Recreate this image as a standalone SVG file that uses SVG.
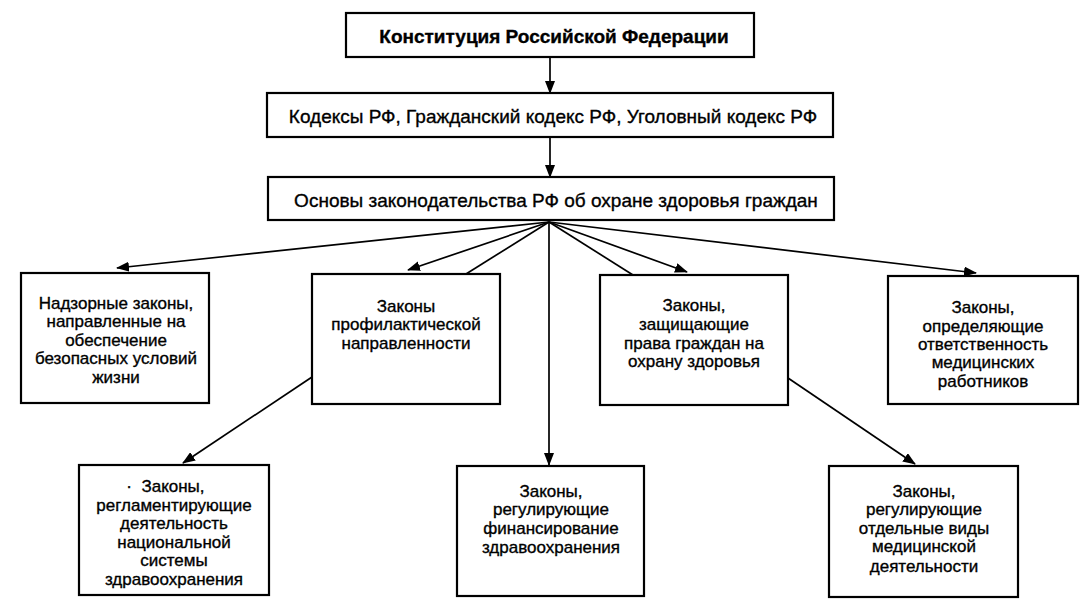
<svg xmlns="http://www.w3.org/2000/svg" width="1091" height="613" viewBox="0 0 1091 613">
<defs>
<marker id="arr" markerUnits="userSpaceOnUse" markerWidth="14" markerHeight="10" refX="12" refY="5" orient="auto">
<path d="M0,0 L13,5 L0,10 z" fill="#000"/>
</marker>
<style>
.box{fill:#fff;stroke:#000;stroke-width:2.2}
.t{font-family:"Liberation Sans",Arial,sans-serif;font-size:17px;fill:#000;stroke:#000;stroke-width:0.35;text-anchor:middle}
.big{font-size:19px}
.bold{font-weight:bold;font-size:19px}
.ln{fill:none;stroke:#000;stroke-width:1.7}
</style>
</defs>
<rect width="1091" height="613" fill="#fff"/>
<g id="connectors">
<line class="ln" x1="550" y1="57" x2="550" y2="93" marker-end="url(#arr)"/>
<line class="ln" x1="550" y1="137" x2="550" y2="177" marker-end="url(#arr)"/>
<line class="ln" x1="549" y1="222" x2="117" y2="268" marker-end="url(#arr)"/>
<line class="ln" x1="549" y1="222" x2="408" y2="270" marker-end="url(#arr)"/>
<line class="ln" x1="549" y1="222" x2="466" y2="274"/>
<line class="ln" x1="549" y1="222" x2="549" y2="465" marker-end="url(#arr)"/>
<line class="ln" x1="549" y1="222" x2="633" y2="275"/>
<line class="ln" x1="549" y1="222" x2="687" y2="272" marker-end="url(#arr)"/>
<line class="ln" x1="549" y1="222" x2="976" y2="273" marker-end="url(#arr)"/>
<line class="ln" x1="312" y1="377" x2="183" y2="463" marker-end="url(#arr)"/>
<line class="ln" x1="788" y1="378" x2="915" y2="464" marker-end="url(#arr)"/>
</g>
<g id="n1">
<rect class="box" x="346" y="13" width="408" height="44"/>
<text class="t bold" x="554" y="43">Конституция Российской Федерации</text>
</g>
<g id="n2">
<rect class="box" x="267" y="93" width="566" height="44"/>
<text class="t big" x="553" y="123">Кодексы РФ, Гражданский кодекс РФ, Уголовный кодекс РФ</text>
</g>
<g id="n3">
<rect class="box" x="268" y="177" width="566" height="43"/>
<text class="t big" x="556" y="207">Основы законодательства РФ об охране здоровья граждан</text>
</g>
<g id="nA">
<rect class="box" x="21" y="273" width="188" height="130"/>
<text class="t" x="116" y="309">Надзорные законы,</text>
<text class="t" x="116" y="327">направленные на</text>
<text class="t" x="116" y="346">обеспечение</text>
<text class="t" x="116" y="364">безопасных условий</text>
<text class="t" x="116" y="383">жизни</text>
</g>
<g id="nB">
<rect class="box" x="312" y="274" width="188" height="130"/>
<text class="t" x="406" y="312">Законы</text>
<text class="t" x="406" y="330">профилактической</text>
<text class="t" x="406" y="349">направленности</text>
</g>
<g id="nC">
<rect class="box" x="600" y="275" width="188" height="130"/>
<text class="t" x="694" y="311">Законы,</text>
<text class="t" x="694" y="330">защищающие</text>
<text class="t" x="694" y="349">права граждан на</text>
<text class="t" x="694" y="367">охрану здоровья</text>
</g>
<g id="nD">
<rect class="box" x="888" y="276" width="190" height="128"/>
<text class="t" x="983" y="313">Законы,</text>
<text class="t" x="983" y="332">определяющие</text>
<text class="t" x="983" y="350">ответственность</text>
<text class="t" x="983" y="368">медицинских</text>
<text class="t" x="983" y="387">работников</text>
</g>
<g id="nE">
<rect class="box" x="79" y="465" width="190" height="130"/>
<text class="t" x="172" y="492"><tspan x="129">·</tspan><tspan x="173">Законы,</tspan></text>
<text class="t" x="174" y="511">регламентирующие</text>
<text class="t" x="174" y="529">деятельность</text>
<text class="t" x="174" y="548">национальной</text>
<text class="t" x="174" y="566">системы</text>
<text class="t" x="174" y="585">здравоохранения</text>
</g>
<g id="nF">
<rect class="box" x="457" y="466" width="187" height="130"/>
<text class="t" x="551" y="497">Законы,</text>
<text class="t" x="551" y="515">регулирующие</text>
<text class="t" x="551" y="534">финансирование</text>
<text class="t" x="551" y="553">здравоохранения</text>
</g>
<g id="nG">
<rect class="box" x="829" y="466" width="189" height="131"/>
<text class="t" x="924" y="497">Законы,</text>
<text class="t" x="924" y="515">регулирующие</text>
<text class="t" x="924" y="534">отдельные виды</text>
<text class="t" x="924" y="552">медицинской</text>
<text class="t" x="924" y="572">деятельности</text>
</g>
</svg>
